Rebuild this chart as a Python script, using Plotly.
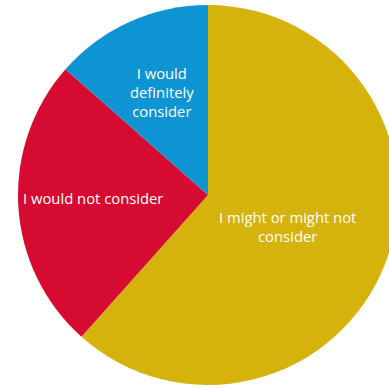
import plotly.graph_objects as go

labels = ["I might or might not<br>consider", "I would not consider", "I would<br>definitely<br>consider"]
values = [61.6, 24.9, 13.5]
colors = ["#D5B20C", "#D60B31", "#0E93D3"]

# label anchor positions (paper coordinates) for each slice label
label_xy = [(0.7105, 0.418), (0.198, 0.491), (0.380, 0.770)]

fig = go.Figure(go.Pie(
    labels=labels,
    values=values,
    sort=False,
    direction="clockwise",
    rotation=0,
    marker=dict(colors=colors, line=dict(width=0)),
    textinfo="none",
    hoverinfo="label+percent",
    showlegend=False,
))

for lab, (x, y) in zip(labels, label_xy):
    fig.add_annotation(
        text=lab, x=x, y=y, xref="paper", yref="paper",
        xanchor="center", yanchor="middle", showarrow=False,
        font=dict(family="Open Sans", size=14.8, color="white"),
        align="center",
    )

fig.update_layout(
    width=398, height=388,
    margin=dict(l=18, r=0, t=5, b=3),
    paper_bgcolor="white",
    plot_bgcolor="white",
)

fig.write_html(
    "out.html",
    config={"displayModeBar": False},
    post_script="document.body.style.margin='0';document.body.style.overflow='hidden';document.documentElement.style.overflow='hidden';",
)
